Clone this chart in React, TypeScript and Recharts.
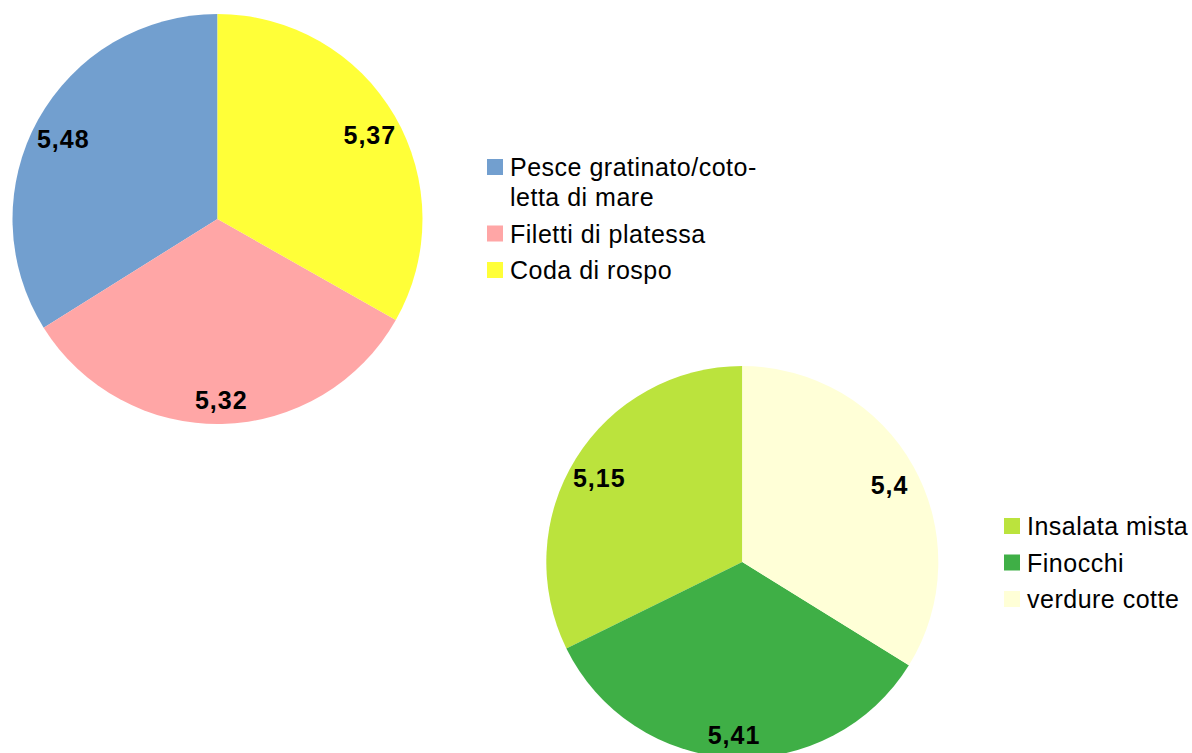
import { Cell, Pie, PieChart } from "recharts";

const fishNames = ["Pesce gratinato/cotoletta di mare", "Filetti di platessa", "Coda di rospo"];
const fishLegendLines = [["Pesce gratinato/coto-", "letta di mare"], ["Filetti di platessa"], ["Coda di rospo"]];
const fishValues = [5.48, 5.32, 5.37];
const fishColors = ["#729fcf", "#ffa6a6", "#ffff38"];

const vegNames = ["Insalata mista", "Finocchi", "verdure cotte"];
const vegLegendLines = [["Insalata mista"], ["Finocchi"], ["verdure cotte"]];
const vegValues = [5.15, 5.41, 5.4];
const vegColors = ["#bbe33d", "#3faf46", "#ffffd7"];

const WIDTH = 1192;
const HEIGHT = 753;
const RADIAN = Math.PI / 180;
const fontFamily = "'Liberation Sans', Arial, sans-serif";

const fishData = fishNames.map((name, i) => ({ name, value: fishValues[i] }));
const vegData = vegNames.map((name, i) => ({ name, value: vegValues[i] }));

function formatValue(value: number) {
  return value.toLocaleString("it-IT");
}

// value labels sit inside each slice, a bit out from the centre
function renderValueLabel(props: any) {
  const { cx, cy, midAngle, outerRadius, value } = props;
  const r = outerRadius * 0.86;
  const x = cx + r * Math.cos(-midAngle * RADIAN);
  const y = cy + r * Math.sin(-midAngle * RADIAN) + 5;
  return (
    <text
      x={x}
      y={y}
      textAnchor="middle"
      dominantBaseline="central"
      fill="#000000"
      fontFamily={fontFamily}
      fontSize={25}
      fontWeight="bold"
      letterSpacing={1}
    >
      {formatValue(value)}
    </text>
  );
}

type LegendProps = {
  lines: string[][];
  colors: string[];
  x: number;
  top: number;
  lineGap: number;
  itemGap: number;
};

function LegendBlock({ lines, colors, x, top, lineGap, itemGap }: LegendProps) {
  let baseline = top;
  return (
    <g>
      {lines.map((itemLines, i) => {
        const first = baseline;
        baseline += (itemLines.length - 1) * lineGap + itemGap;
        return (
          <g key={i}>
            <rect x={x} y={first - 17} width={16} height={16} fill={colors[i]} />
            {itemLines.map((line, j) => (
              <text
                key={j}
                x={x + 23}
                y={first + j * lineGap}
                fill="#000000"
                fontFamily={fontFamily}
                fontSize={25}
                letterSpacing={0.5}
              >
                {line}
              </text>
            ))}
          </g>
        );
      })}
    </g>
  );
}

export default function App() {
  return (
    <div style={{ position: "fixed", left: 0, top: 0, width: WIDTH, height: HEIGHT, background: "#ffffff" }}>
      <PieChart width={WIDTH} height={HEIGHT} margin={{ top: 0, right: 0, bottom: 0, left: 0 }}>
        <Pie
          data={fishData}
          dataKey="value"
          nameKey="name"
          cx={217.5}
          cy={219}
          outerRadius={205}
          startAngle={90}
          endAngle={450}
          stroke="none"
          labelLine={false}
          label={renderValueLabel}
          isAnimationActive={false}
        >
          {fishData.map((item, i) => (
            <Cell key={item.name} fill={fishColors[i]} />
          ))}
        </Pie>
        <Pie
          data={vegData}
          dataKey="value"
          nameKey="name"
          cx={742.3}
          cy={562}
          outerRadius={196}
          startAngle={90}
          endAngle={450}
          stroke="none"
          labelLine={false}
          label={renderValueLabel}
          isAnimationActive={false}
        >
          {vegData.map((item, i) => (
            <Cell key={item.name} fill={vegColors[i]} />
          ))}
        </Pie>
      </PieChart>
      <svg
        width={WIDTH}
        height={HEIGHT}
        style={{ position: "absolute", left: 0, top: 0, pointerEvents: "none" }}
      >
        <LegendBlock lines={fishLegendLines} colors={fishColors} x={487} top={176} lineGap={30} itemGap={36.5} />
        <LegendBlock lines={vegLegendLines} colors={vegColors} x={1004} top={535} lineGap={30} itemGap={36.5} />
      </svg>
    </div>
  );
}
